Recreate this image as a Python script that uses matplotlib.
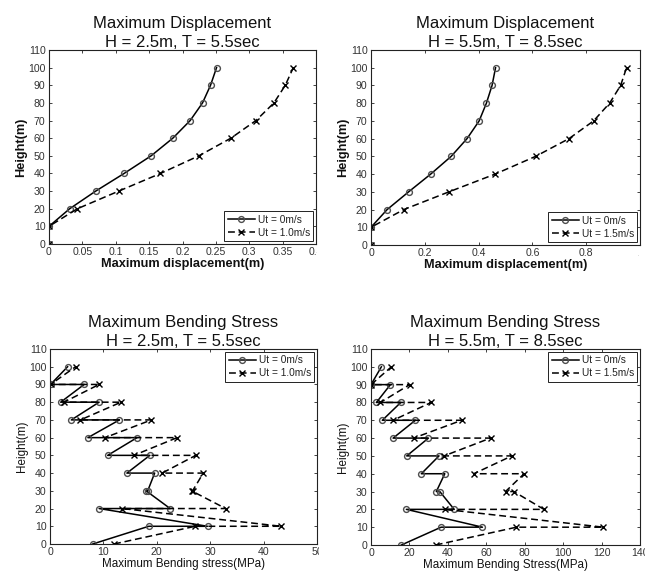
import matplotlib
matplotlib.use("Agg")
import matplotlib.pyplot as plt
from matplotlib.ticker import FixedLocator, FuncFormatter
from matplotlib.transforms import Bbox, TransformedBbox

plt.rcParams['font.family'] = ['Liberation Sans', 'DejaVu Sans']

# ---------------- data ----------------
heights = [0, 10, 20, 30, 40, 50, 60, 70, 80, 90, 100]

disp_a_ut0 = [0, 0, 0.031, 0.070, 0.1125, 0.153, 0.1855, 0.2115, 0.230, 0.242, 0.251]
disp_a_ut1 = [0, 0, 0.0425, 0.1045, 0.167, 0.2245, 0.2725, 0.310, 0.337, 0.354, 0.366]

disp_b_ut0 = [0, 0, 0.060, 0.140, 0.222, 0.298, 0.357, 0.402, 0.429, 0.450, 0.463]
disp_b_ut15 = [0, 0, 0.122, 0.290, 0.4615, 0.612, 0.736, 0.8275, 0.887, 0.928, 0.950]

stress_heights = [0, 10, 10, 20, 20, 30, 30, 40, 40, 50, 50, 60, 60, 70, 70, 80, 80, 90, 90, 100]

stress_a_ut0 = [8.0, 18.5, 29.5, 9.2, 22.5, 18.0, 18.3, 19.6, 14.4, 18.7,
                10.8, 16.3, 7.1, 13.0, 4.0, 9.2, 2.0, 6.4, 0.1, 3.3]
stress_a_ut1 = [12.0, 27.2, 43.3, 13.5, 32.9, 26.5, 26.7, 28.7, 21.0, 27.3,
                15.7, 23.8, 10.3, 19.0, 5.7, 13.3, 2.6, 9.2, 0.1, 4.8]

stress_b_ut0 = [15.8, 36.5, 58.0, 18.4, 43.3, 35.8, 34.0, 38.4, 26.2, 35.4,
                18.6, 29.9, 11.5, 23.1, 5.9, 15.5, 2.8, 10.1, 0.0, 5.4]
stress_b_ut15 = [33.7, 75.7, 120.9, 38.4, 90.0, 74.3, 70.0, 79.7, 53.5, 73.3,
                 38.0, 62.2, 22.2, 47.2, 11.5, 31.3, 4.9, 20.1, 0.0, 10.6]

titles = ["Maximum Displacement\nH = 2.5m, T = 5.5sec",
          "Maximum Displacement\nH = 5.5m, T = 8.5sec",
          "Maximum Bending Stress\nH = 2.5m, T = 5.5sec",
          "Maximum Bending Stress\nH = 5.5m, T = 8.5sec"]
xlabels = ["Maximum displacement(m)", "Maximum displacement(m)",
           "Maximum Bending stress(MPa)", "Maximum Bending Stress(MPa)"]
ylabel = "Height(m)"
legend_a = ["Ut = 0m/s", "Ut = 1.0m/s"]
legend_b = ["Ut = 0m/s", "Ut = 1.5m/s"]

xticks_list = [[0, 0.05, 0.1, 0.15, 0.2, 0.25, 0.3, 0.35, 0.4],
               [0, 0.2, 0.4, 0.6, 0.8, 1.0],
               [0, 10, 20, 30, 40, 50],
               [0, 20, 40, 60, 80, 100, 120, 140]]
yticks = list(range(0, 111, 10))

# ---------------- figure ----------------
W, H = 651, 575
fig = plt.figure(figsize=(W / 100, H / 100), dpi=100)

# axes boxes in pixels (left, top, right, bottom)
boxes = [(49, 50, 316, 244), (371, 50, 640, 245),
         (50, 349, 317, 544), (371, 349, 640, 545)]
clip_x = [317, 639, 319, 645]
label_style = [dict(fontsize=9.2, fontweight='bold'),
               dict(fontsize=9.2, fontweight='bold'),
               dict(fontsize=8.4, fontweight='normal'),
               dict(fontsize=8.4, fontweight='normal')]

axes = []
for (l, t, r, b) in boxes:
    ax = fig.add_axes([l / W, (H - b) / H, (r - l) / W, (b - t) / H])
    axes.append(ax)

solid_kw = dict(color='black', lw=1.1, marker='o', ms=4.2, mfc='none',
                mec='0.3', mew=1.0)
dash_kw = dict(color='black', lw=1.1, ls=(0, (4.5, 2.5)), marker='x', ms=4,
               mec='black', mew=1.0)

# displacement panels
axes[0].plot(disp_a_ut0, heights, label=legend_a[0], **solid_kw)
axes[0].plot(disp_a_ut1, heights, label=legend_a[1], **dash_kw)
axes[1].plot(disp_b_ut0, heights, label=legend_b[0], **solid_kw)
axes[1].plot(disp_b_ut15, heights, label=legend_b[1], **dash_kw)
# stress panels
axes[2].plot(stress_a_ut0, stress_heights, label=legend_a[0], **solid_kw)
axes[2].plot(stress_a_ut1, stress_heights, label=legend_a[1], **dash_kw)
axes[3].plot(stress_b_ut0, stress_heights, label=legend_b[0], **solid_kw)
axes[3].plot(stress_b_ut15, stress_heights, label=legend_b[1], **dash_kw)

fmt = FuncFormatter(lambda v, p: ('%g' % round(v, 6)))
leg_locs = ['lower right', 'lower right', 'upper right', 'upper right']

for i, ax in enumerate(axes):
    xt = xticks_list[i]
    ax.set_xlim(xt[0], xt[-1])
    ax.set_ylim(0, 110)
    ax.xaxis.set_major_locator(FixedLocator(xt))
    ax.yaxis.set_major_locator(FixedLocator(yticks))
    ax.xaxis.set_major_formatter(fmt)
    ax.yaxis.set_major_formatter(fmt)
    ax.tick_params(direction='in', length=2.5, width=0.6, top=True, right=True,
                   labelsize=7.6, colors='#222222', labelcolor='#333333')
    ax.tick_params(axis='x', pad=2)
    ax.tick_params(axis='y', pad=2.5)
    for s in ax.spines.values():
        s.set_linewidth(0.8)
        s.set_color('#222222')
    ax.set_xlabel(xlabels[i], labelpad=1, color='#111111', **label_style[i])
    ax.set_ylabel(ylabel, labelpad=1, color='#111111', **label_style[i])
    ax.set_title(titles[i], fontsize=12, pad=2, linespacing=1.35, color='#111111')
    leg = ax.legend(loc=leg_locs[i], fontsize=7.3, handlelength=2.7,
                    handletextpad=0.25, borderpad=0.35, labelspacing=0.3,
                    borderaxespad=0.25, fancybox=False, framealpha=1,
                    edgecolor='#222222')
    leg.get_frame().set_linewidth(0.7)
    for txt in leg.get_texts():
        txt.set_color('#222222')

fig.canvas.draw()
for i, ax in enumerate(axes):
    cb = TransformedBbox(Bbox([[0, 0], [clip_x[i] / W, 1]]), fig.transFigure)
    for lab in ax.xaxis.get_ticklabels():
        lab.set_clip_box(cb)
        lab.set_clip_on(True)

fig.savefig("out.png", dpi=100, facecolor='white')
